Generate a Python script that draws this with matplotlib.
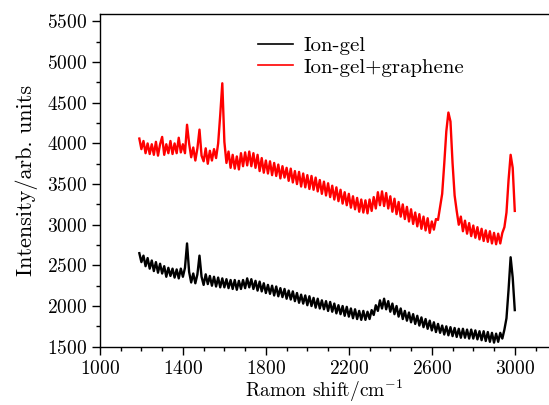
import numpy as np
import matplotlib
matplotlib.use("Agg")
import matplotlib.pyplot as plt
from matplotlib.ticker import MultipleLocator

plt.rcParams['font.family'] = 'serif'
plt.rcParams['font.serif'] = ['cmr10', 'DejaVu Serif']
plt.rcParams['mathtext.fontset'] = 'cm'
plt.rcParams['axes.unicode_minus'] = False
plt.rcParams['axes.formatter.use_mathtext'] = True

# Raman shift grid (cm^-1), one reading every 10 cm^-1 from 1190 to 3000
shift = np.arange(1190, 3001, 10)

# Ion-gel + graphene (red)
ion_gel_graphene = [
    4060, 3930, 4030, 3880, 4000, 3870, 3990, 3860, 4020, 3850,   # 1190-1280
    3990, 4080, 3860, 3990, 3880, 4030, 3870, 4000, 3880, 4070,   # 1290-1380
    3890, 3990, 3880, 4230, 4000, 3830, 3950, 3790, 3940, 4170,   # 1390-1480
    3850, 3780, 3940, 3750, 3910, 3790, 3930, 3820, 4000, 4350,   # 1490-1580
    4740, 4020, 3760, 3900, 3700, 3860, 3690, 3840, 3680, 3880,   # 1590-1680
    3720, 3890, 3730, 3900, 3720, 3880, 3700, 3860, 3660, 3820,   # 1690-1780
    3640, 3790, 3630, 3780, 3610, 3760, 3600, 3740, 3570, 3720,   # 1790-1880
    3580, 3700, 3540, 3690, 3520, 3660, 3500, 3650, 3470, 3630,   # 1890-1980
    3460, 3610, 3440, 3600, 3430, 3580, 3410, 3550, 3380, 3530,   # 1990-2080
    3360, 3510, 3340, 3480, 3310, 3460, 3290, 3430, 3260, 3400,   # 2090-2180
    3240, 3380, 3210, 3350, 3190, 3330, 3160, 3310, 3150, 3300,   # 2190-2280
    3140, 3310, 3170, 3340, 3200, 3400, 3240, 3410, 3230, 3390,   # 2290-2380
    3200, 3350, 3160, 3320, 3130, 3280, 3100, 3250, 3070, 3220,   # 2390-2480
    3040, 3190, 3010, 3150, 2980, 3130, 2950, 3100, 2930, 3080,   # 2490-2580
    2900, 3040, 2940, 3070, 3060, 3220, 3380, 3750, 4150, 4380,   # 2590-2680
    4270, 3760, 3360, 3170, 3000, 3100, 2920, 3050, 2890, 3020,   # 2690-2780
    2860, 2990, 2840, 2970, 2820, 2950, 2800, 2930, 2790, 2920,   # 2790-2880
    2770, 2900, 2760, 2890, 2770, 2900, 2970, 3150, 3550, 3860,   # 2890-2980
    3700, 3170,                                                   # 2990-3000
]

# Ion-gel (black)
ion_gel = [
    2650, 2540, 2620, 2490, 2590, 2460, 2560, 2430, 2540, 2410,   # 1190-1280
    2520, 2400, 2490, 2360, 2470, 2370, 2460, 2350, 2450, 2340,   # 1290-1380
    2460, 2360, 2470, 2770, 2420, 2290, 2400, 2280, 2390, 2620,   # 1390-1480
    2360, 2260, 2390, 2270, 2370, 2250, 2360, 2240, 2350, 2230,   # 1490-1580
    2340, 2230, 2330, 2220, 2320, 2210, 2320, 2200, 2310, 2210,   # 1590-1680
    2320, 2220, 2340, 2230, 2330, 2210, 2310, 2190, 2300, 2180,   # 1690-1780
    2280, 2160, 2260, 2150, 2250, 2130, 2240, 2120, 2220, 2110,   # 1790-1880
    2210, 2090, 2190, 2080, 2180, 2060, 2160, 2040, 2140, 2030,   # 1890-1980
    2130, 2010, 2120, 2000, 2100, 1980, 2090, 1970, 2070, 1960,   # 1990-2080
    2060, 1940, 2050, 1930, 2030, 1910, 2010, 1900, 2000, 1880,   # 2090-2180
    1990, 1870, 1970, 1850, 1960, 1840, 1940, 1830, 1940, 1830,   # 2190-2280
    1930, 1840, 1950, 1890, 2010, 1940, 2070, 1970, 2090, 1960,   # 2290-2380
    2060, 1930, 2030, 1900, 2000, 1870, 1970, 1840, 1940, 1820,   # 2390-2480
    1920, 1800, 1900, 1780, 1880, 1760, 1860, 1740, 1840, 1720,   # 2490-2580
    1820, 1700, 1800, 1680, 1780, 1670, 1760, 1650, 1750, 1640,   # 2590-2680
    1740, 1630, 1730, 1620, 1720, 1610, 1720, 1610, 1710, 1600,   # 2690-2780
    1710, 1600, 1700, 1590, 1690, 1580, 1690, 1570, 1680, 1560,   # 2790-2880
    1670, 1550, 1660, 1560, 1670, 1600, 1710, 1850, 2200, 2600,   # 2890-2980
    2350, 1950,                                                   # 2990-3000
]

xticks = [1000, 1400, 1800, 2200, 2600, 3000]
yticks = [1500, 2000, 2500, 3000, 3500, 4000, 4500, 5000, 5500]

fig = plt.figure(figsize=(5.49, 4.05), dpi=100)
ax = fig.add_axes([0.182, 0.144, 0.818, 0.821])

ax.plot(shift, ion_gel, color='black', lw=1.7, label='Ion-gel')
ax.plot(shift, ion_gel_graphene, color='red', lw=1.7, label='Ion-gel+graphene')

ax.set_xlim(1000, 3165)
ax.set_ylim(1500, 5590)
ax.set_xticks(xticks)
ax.set_yticks(yticks)
ax.xaxis.set_minor_locator(MultipleLocator(100))
ax.yaxis.set_minor_locator(MultipleLocator(250))
ax.tick_params(which='both', direction='out', top=False, right=False, labelsize=14, width=1.0)
ax.tick_params(which='major', length=6)
ax.tick_params(which='minor', length=3)
ax.spines['right'].set_visible(False)
for s in ['left', 'bottom', 'top']:
    ax.spines[s].set_linewidth(1.0)

ax.set_xlabel('Ramon shift/cm$^{-1}$', fontsize=14, labelpad=0)
ax.set_ylabel('Intensity/arb. units', fontsize=16, labelpad=6)

leg = ax.legend(loc='upper left', bbox_to_anchor=(0.31, 0.99), frameon=False, fontsize=15,
                handlelength=1.7, handletextpad=0.5, labelspacing=0.15)
for line in leg.get_lines():
    line.set_linewidth(1.2)

fig.savefig('out.png', dpi=100)
